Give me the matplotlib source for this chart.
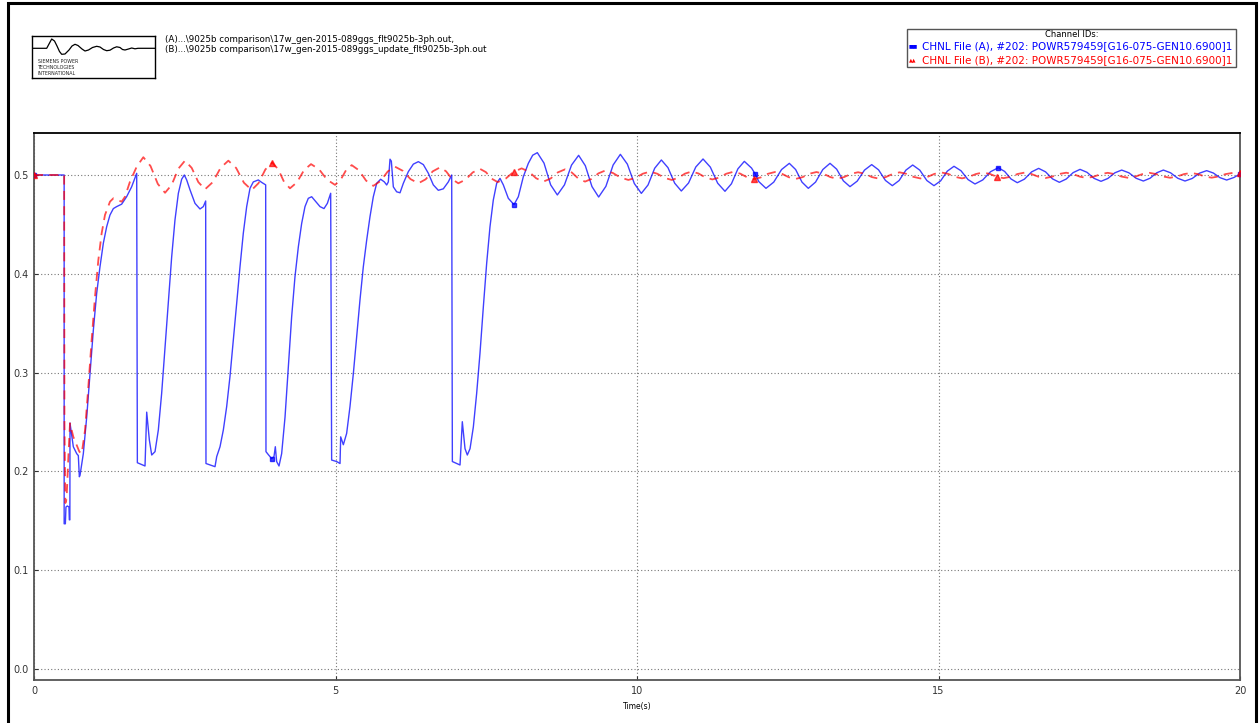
import numpy as np
import matplotlib.pyplot as plt
from matplotlib.patches import Rectangle

# Channel A (blue, solid) - time (s) and power values
time_a = [0.0, 0.5, 0.5, 0.52, 0.53, 0.553, 0.58, 0.586, 0.595, 0.597, 0.652, 0.708, 0.735,
          0.752, 0.763, 0.818, 0.874, 0.929, 0.984, 1.039, 1.094, 1.15, 1.205, 1.26, 1.316,
          1.371, 1.454, 1.536, 1.619, 1.703, 1.714, 1.841, 1.869, 1.913, 1.952, 2.007, 2.062,
          2.117, 2.173, 2.228, 2.283, 2.338, 2.394, 2.449, 2.493, 2.532, 2.587, 2.67, 2.753,
          2.808, 2.847, 2.852, 3.002, 3.03, 3.085, 3.14, 3.195, 3.25, 3.306, 3.361, 3.416,
          3.471, 3.527, 3.582, 3.637, 3.72, 3.776, 3.842, 3.847, 3.886, 3.941, 3.98, 4.002,
          4.024, 4.063, 4.107, 4.163, 4.218, 4.273, 4.328, 4.384, 4.439, 4.494, 4.549, 4.605,
          4.66, 4.743, 4.809, 4.865, 4.92, 4.936, 5.019, 5.075, 5.086, 5.13, 5.185, 5.24,
          5.296, 5.351, 5.406, 5.461, 5.517, 5.572, 5.627, 5.683, 5.749, 5.81, 5.849, 5.876,
          5.904, 5.926, 5.959, 6.014, 6.07, 6.125, 6.208, 6.291, 6.374, 6.457, 6.54, 6.622,
          6.705, 6.788, 6.871, 6.927, 6.938, 7.065, 7.103, 7.148, 7.186, 7.231, 7.286, 7.341,
          7.396, 7.452, 7.507, 7.562, 7.617, 7.673, 7.728, 7.783, 7.866, 7.96, 8.032, 8.115,
          8.198, 8.27, 8.347, 8.458, 8.568, 8.679, 8.797, 8.914, 9.032, 9.143, 9.253, 9.364,
          9.484, 9.604, 9.724, 9.84, 9.956, 10.072, 10.183, 10.293, 10.404, 10.514, 10.625,
          10.735, 10.855, 10.975, 11.095, 11.216, 11.338, 11.459, 11.566, 11.673, 11.78,
          11.9, 11.96, 12.02, 12.139, 12.268, 12.397, 12.526, 12.631, 12.736, 12.841, 12.961, 13.081,
          13.201, 13.311, 13.422, 13.532, 13.652, 13.772, 13.892, 14.006, 14.12, 14.234,
          14.347, 14.459, 14.572, 14.69, 14.807, 14.925, 15.036, 15.146, 15.257, 15.373,
          15.489, 15.605, 15.734, 15.863, 15.992, 16.097, 16.202, 16.307, 16.425, 16.543,
          16.661, 16.775, 16.89, 17.004, 17.118, 17.233, 17.347, 17.463, 17.579, 17.695,
          17.809, 17.924, 18.038, 18.158, 18.277, 18.397, 18.508, 18.618, 18.729, 18.849,
          18.968, 19.088, 19.208, 19.327, 19.447, 19.558, 19.668, 19.779, 19.9, 20.0]
power_a = [0.5, 0.5, 0.147, 0.147, 0.164, 0.165, 0.164, 0.151, 0.151, 0.249, 0.225, 0.218, 0.216,
           0.1946, 0.196, 0.218, 0.255, 0.2995, 0.343, 0.38, 0.407, 0.431, 0.4476, 0.4595, 0.466,
           0.468, 0.4705, 0.478, 0.488, 0.5017, 0.2088, 0.2055, 0.26, 0.2318, 0.2166, 0.22, 0.242,
           0.279, 0.326, 0.3735, 0.417, 0.4545, 0.4815, 0.4957, 0.5, 0.495, 0.485, 0.4713, 0.4656,
           0.468, 0.4737, 0.208, 0.2048, 0.215, 0.225, 0.242, 0.2655, 0.296, 0.333, 0.37, 0.407,
           0.441, 0.468, 0.4865, 0.493, 0.495, 0.4925, 0.49, 0.22, 0.217, 0.213, 0.215, 0.225,
           0.21, 0.2055, 0.218, 0.255, 0.306, 0.3566, 0.397, 0.4274, 0.451, 0.468, 0.4764, 0.478,
           0.474, 0.468, 0.466, 0.4713, 0.4815, 0.2115, 0.21, 0.208, 0.235, 0.227, 0.2385, 0.2655,
           0.299, 0.336, 0.3735, 0.407, 0.434, 0.4578, 0.478, 0.4916, 0.4957, 0.493, 0.4899, 0.493,
           0.516, 0.514, 0.488, 0.483, 0.482, 0.4916, 0.5034, 0.511, 0.5135, 0.5105, 0.5017, 0.49,
           0.4845, 0.486, 0.493, 0.5, 0.21, 0.2065, 0.2503, 0.223, 0.2166, 0.223, 0.245, 0.279,
           0.3195, 0.3667, 0.4106, 0.4476, 0.4747, 0.4916, 0.4966, 0.49, 0.4764, 0.470, 0.478, 0.4983,
           0.5118, 0.520, 0.5226, 0.512, 0.490, 0.4798, 0.490, 0.510, 0.5199, 0.5094, 0.4883, 0.4777,
           0.4885, 0.5101, 0.5209, 0.511, 0.4913, 0.4814, 0.4899, 0.5068, 0.5152, 0.5074, 0.4917,
           0.4838, 0.4919, 0.5081, 0.5162, 0.508, 0.4917, 0.4835, 0.4911, 0.5062, 0.5138,
           0.507, 0.501, 0.4933, 0.4865, 0.4928, 0.5055, 0.5118, 0.5055, 0.4928, 0.4865, 0.4928, 0.5055,
           0.5118, 0.5059, 0.4941, 0.4882, 0.4938, 0.5049, 0.5105, 0.5052, 0.4945, 0.4892,
           0.4944, 0.5049, 0.5101, 0.5049, 0.4944, 0.4892, 0.4941, 0.5039, 0.5088, 0.5043,
           0.4954, 0.4909, 0.495, 0.5033, 0.5074, 0.5036, 0.496, 0.4922, 0.4958, 0.5031,
           0.5067, 0.5032, 0.4961, 0.4926, 0.4959, 0.5024, 0.5057, 0.5027, 0.4966, 0.4936,
           0.4965, 0.5022, 0.505, 0.5022, 0.4967, 0.4939, 0.4967, 0.5022, 0.505, 0.5022,
           0.4967, 0.4939, 0.4965, 0.5018, 0.5044, 0.502, 0.4973, 0.4949, 0.4975, 0.501]

# Channel B (red, dashed)
time_b = [0.0, 0.5, 0.505, 0.52, 0.54, 0.57, 0.597, 0.652, 0.708, 0.752, 0.791, 0.846, 0.901,
          0.956, 1.012, 1.067, 1.122, 1.177, 1.26, 1.316, 1.382, 1.454, 1.509, 1.592, 1.703,
          1.813, 1.933, 2.053, 2.173, 2.283, 2.394, 2.504, 2.615, 2.725, 2.836, 2.965, 3.094,
          3.223, 3.352, 3.481, 3.61, 3.723, 3.837, 3.95, 4.048, 4.147, 4.245, 4.361, 4.478,
          4.594, 4.727, 4.859, 4.992, 5.084, 5.176, 5.268, 5.388, 5.507, 5.627, 5.747, 5.867,
          5.987, 6.116, 6.245, 6.374, 6.494, 6.613, 6.733, 6.834, 6.936, 7.037, 7.157, 7.276,
          7.396, 7.494, 7.592, 7.69, 7.822, 7.955, 8.087, 8.207, 8.327, 8.447, 8.567, 8.686,
          8.806, 8.917, 9.027, 9.138, 9.248, 9.359, 9.469, 9.598, 9.727, 9.856, 9.976, 10.096,
          10.216, 10.336, 10.455, 10.575, 10.685, 10.796, 10.906, 11.021, 11.135, 11.25, 11.365,
          11.481, 11.596, 11.711, 11.825, 11.94, 12.055, 12.171, 12.286, 12.401, 12.515, 12.63,
          12.745, 12.861, 12.976, 13.091, 13.205, 13.32, 13.435, 13.551, 13.666, 13.781, 13.895,
          14.01, 14.125, 14.241, 14.356, 14.471, 14.585, 14.7, 14.815, 14.931, 15.046, 15.161,
          15.275, 15.39, 15.505, 15.621, 15.736, 15.851, 15.965, 16.08, 16.195, 16.311, 16.426,
          16.541, 16.655, 16.77, 16.885, 17.001, 17.116, 17.231, 17.345, 17.46, 17.575, 17.691,
          17.806, 17.921, 18.035, 18.15, 18.265, 18.381, 18.496, 18.611, 18.725, 18.84, 18.955,
          19.071, 19.186, 19.301, 19.415, 19.53, 19.645, 19.761, 19.876, 20.0]
power_b = [0.5, 0.5, 0.25, 0.168, 0.172, 0.215, 0.2487, 0.235, 0.2267, 0.22, 0.218, 0.2416, 0.2857,
           0.3331, 0.377, 0.4139, 0.441, 0.4595, 0.473, 0.4764, 0.4747, 0.473, 0.478, 0.4933, 0.5084,
           0.518, 0.509, 0.491, 0.482, 0.490, 0.5064, 0.5145, 0.5072, 0.4928, 0.4855, 0.4928, 0.5072,
           0.5145, 0.5071, 0.4922, 0.4848, 0.4917, 0.5056, 0.5125, 0.506, 0.493, 0.4865, 0.4926, 0.5049,
           0.511, 0.5058, 0.4953, 0.490, 0.495, 0.505, 0.510, 0.5048, 0.4943, 0.489, 0.4939, 0.5036,
           0.5084, 0.5042, 0.4958, 0.4916, 0.4956, 0.5037, 0.5077, 0.5037, 0.4956, 0.4916, 0.4953, 0.5026,
           0.5062, 0.5029, 0.4962, 0.4928, 0.4963, 0.5032, 0.5067, 0.5034, 0.4967, 0.4933, 0.4964, 0.5026,
           0.5057, 0.5026, 0.4964, 0.4933, 0.4961, 0.5016, 0.5044, 0.5021, 0.4974, 0.495, 0.4971, 0.5013,
           0.5034, 0.5013, 0.4971, 0.495, 0.4971, 0.5014, 0.5035, 0.5015, 0.4975, 0.4955, 0.4974,
           0.5013, 0.5032, 0.5014, 0.4977, 0.4958, 0.4976, 0.5012, 0.503, 0.5013, 0.4978, 0.496,
           0.4978, 0.5013, 0.503, 0.5013, 0.4979, 0.4962, 0.4979, 0.5012, 0.5028, 0.5012, 0.4979,
           0.4963, 0.4979, 0.5011, 0.5027, 0.5011, 0.4981, 0.4965, 0.498, 0.5011, 0.5026, 0.5011,
           0.4981, 0.4966, 0.4981, 0.501, 0.5025, 0.5011, 0.4982, 0.4968, 0.4982, 0.501, 0.5024,
           0.501, 0.4983, 0.4969, 0.4983, 0.501, 0.5023, 0.501, 0.4983, 0.497, 0.4983, 0.5009,
           0.5022, 0.5009, 0.4984, 0.4971, 0.4984, 0.5009, 0.5022, 0.5009, 0.4985, 0.4972, 0.4984,
           0.5009, 0.5021, 0.5009, 0.4985, 0.4973, 0.4985, 0.5009, 0.5021, 0.5018]

# where the channel markers sit on the curves
marker_times = [0, 3.95, 7.96, 11.96, 15.99, 20]
x_ticks = [0, 5, 10, 15, 20]
y_ticks = [0.0, 0.1, 0.2, 0.3, 0.4, 0.5]

file_lines = [r"(A)...\9025b comparison\17w_gen-2015-089ggs_flt9025b-3ph.out,",
              r"(B)...\9025b comparison\17w_gen-2015-089ggs_update_flt9025b-3ph.out"]
channel_a = "CHNL File (A), #202: POWR579459[G16-075-GEN10.6900]1"
channel_b = "CHNL File (B), #202: POWR579459[G16-075-GEN10.6900]1"

# logo wave (logo box coordinates)
logo_x = [32, 46.7, 49, 51.7, 54.5, 57, 59.5, 61.7, 65, 69, 72, 75, 78, 82, 85, 88.5, 92.5,
          96.7, 100, 103.5, 106.7, 110, 113.5, 116.7, 120, 122.5, 125, 128.5, 131.7, 135, 138, 154.5]
logo_y = [48.3, 48.3, 44, 39, 41, 46, 51.5, 54.3, 54, 50, 46, 44.3, 45.5, 49, 51, 50, 47.5,
          46.3, 47, 49.5, 50.7, 50.2, 48, 46.8, 47.5, 49.5, 50, 49, 48, 48.8, 48.3, 48.3]


def nearest_idx(times, targets):
    times = np.asarray(times)
    return [int(np.argmin(np.abs(times - t))) for t in targets]


W, H = 1259, 723
fig = plt.figure(figsize=(W / 100, H / 100), dpi=100)
fig.patch.set_facecolor('white')

ax = fig.add_axes([34 / W, 1 - 680 / H, (1240 - 34) / W, (680 - 133) / H])
ax.plot(time_a, power_a, color='blue', lw=1.0, alpha=0.75,
        marker='s', ms=3.5, mfc='blue', mec='blue',
        markevery=nearest_idx(time_a, marker_times), zorder=3)
ax.plot(time_b, power_b, color='red', lw=1.3, alpha=0.7, dashes=(5, 3.5),
        marker='^', ms=4, mfc='red', mec='red',
        markevery=nearest_idx(time_b, marker_times), zorder=4)

ax.set_xlim(0, 20)
ax.set_ylim(-0.0111, 0.5425)
ax.set_xticks(x_ticks)
ax.set_xticklabels([str(v) for v in x_ticks])
ax.set_yticks(y_ticks)
ax.set_yticklabels([f"{v:.1f}" for v in y_ticks])
ax.grid(True, linestyle=(0, (1, 2)), color='#777777', lw=0.8)
ax.tick_params(direction='in', length=3, labelsize=7, colors='#333333', pad=4)
for s in ax.spines.values():
    s.set_color('#555555')
    s.set_linewidth(1.3)
ax.spines['top'].set_color('black')
ax.set_xlabel('Time(s)', fontsize=5.5, labelpad=5)

# outer frame
fig.add_artist(Rectangle((8 / W, -0.05), (1256 - 8) / W, 1.05 - 3 / H,
                         transform=fig.transFigure, fill=False, ec='black', lw=2.2))

# logo
lax = fig.add_axes([32 / W, 1 - 77.5 / H, (154.5 - 32) / W, (77.5 - 35.5) / H])
lax.plot(logo_x, logo_y, color='black', lw=0.9)
lax.set_xlim(32, 154.5)
lax.set_ylim(77.5, 35.5)
lax.set_xticks([])
lax.set_yticks([])
for s in lax.spines.values():
    s.set_linewidth(1.0)
for i, word in enumerate(["SIEMENS POWER", "TECHNOLOGIES", "INTERNATIONAL"]):
    lax.text(38, 61.7 + i * 5.7, word, fontsize=3.4, va='center', ha='left', color='#222222')

# file names
for i, line in enumerate(file_lines):
    fig.text(165 / W, 1 - (40 + i * 9) / H, line, fontsize=6.3, va='center', ha='left')

# channel box
fig.add_artist(Rectangle((907 / W, 1 - 67 / H), (1236 - 907) / W, (67 - 29.5) / H,
                         transform=fig.transFigure, fill=False, ec='#555555', lw=1.0))
fig.text(1072 / W, 1 - 34.5 / H, "Channel IDs:", fontsize=6, ha='center', va='center')
fig.text(909 / W, 1 - 46 / H, "\u25a0\u25a0", fontsize=3.5, color='blue', ha='left', va='center')
fig.text(922 / W, 1 - 46 / H, channel_a, fontsize=7.5, color='blue', ha='left', va='center')
fig.text(909 / W, 1 - 60 / H, "\u25b2\u25b2", fontsize=3.5, color='red', ha='left', va='center')
fig.text(922 / W, 1 - 60 / H, channel_b, fontsize=7.5, color='red', ha='left', va='center')

fig.savefig('out.png', dpi=100)
